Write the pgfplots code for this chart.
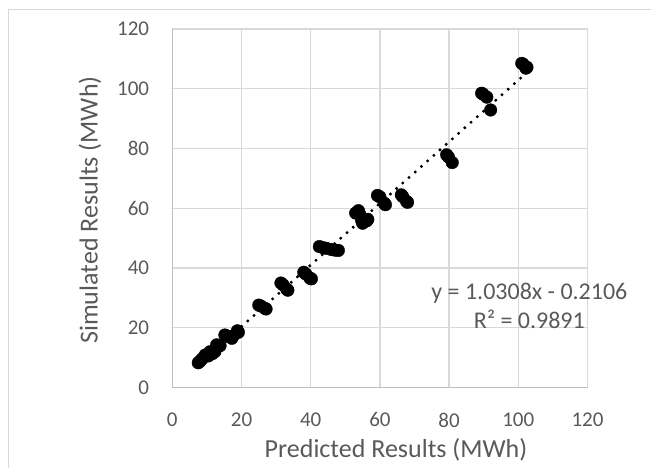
\documentclass[border=0pt]{standalone}
\usepackage{fontspec}
\setmainfont{Carlito}
\usepackage{pgfplots}
\pgfplotsset{compat=1.18}
\definecolor{txtgray}{HTML}{595959}
\definecolor{gridgray}{HTML}{D9D9D9}
\definecolor{axisgray}{HTML}{BFBFBF}

\begin{document}
\begin{tikzpicture}[x=1pt,y=1pt]
\path[use as bounding box] (0,0) rectangle (651,468);
% chart area border (cut off at right and bottom in the reference)
\draw[gridgray, line width=1.3pt] (8.3,-5) -- (8.3,458.3) -- (660,458.3);
\begin{axis}[
    at={(172.3pt,80.4pt)}, anchor=south west,
    scale only axis, width=415.2pt, height=358.6pt,
    xmin=0, xmax=120, ymin=0, ymax=120,
    xtick={0,20,...,120}, ytick={0,20,...,120},
    axis x line=bottom, axis y line=left,
    axis line style={axisgray, line width=1.3pt, -},
    grid=major, grid style={gridgray, line width=1.3pt},
    major tick length=0pt, tick style={draw=none},
    /pgf/number format/assume math mode=true,
    tick label style={font=\fontsize{21}{25}\selectfont, text=txtgray, inner sep=0pt},
    xticklabel style={font=\fontsize{21}{25}\selectfont, anchor=north, yshift=-25pt},
    yticklabel style={font=\fontsize{21}{25}\selectfont, anchor=east, xshift=-23pt},
    xlabel={Predicted Results (MWh)},
    ylabel={Simulated Results (MWh)},
    every axis x label/.style={at={(axis description cs:0.5388,-0.1944)}, anchor=base,
        font=\fontsize{26}{31}\selectfont, text=txtgray, inner sep=0pt},
    every axis y label/.style={at={(axis description cs:-0.1797,0.4953)}, rotate=90, anchor=base,
        font=\fontsize{26}{31}\selectfont, text=txtgray, inner sep=0pt},
    clip=false,
]
\addplot[only marks, mark=*, mark size=6.3pt, mark options={fill=black, draw=black}] coordinates {
    (7.5,8.3) (8.0,8.8) (8.6,9.6) (9.5,10.9) (10.4,10.6) (10.9,12.0) (11.5,11.3)
    (12.3,12.0) (12.8,14.3) (13.8,14.0) (15.2,17.6) (15.7,17.3) (16.5,17.0)
    (17.2,16.5) (17.6,17.3) (18.8,19.0) (19.1,18.5)
    (25.0,27.6) (25.6,27.3) (26.8,26.5) (27.1,26.3)
    (31.4,35.0) (32.0,34.4) (33.1,32.9) (33.4,32.6)
    (38.0,38.6) (38.6,38.0) (39.8,36.6) (40.2,36.4)
    (42.5,47.2) (43.6,46.8) (44.5,46.6) (46.0,46.2) (47.0,46.0) (48.0,45.9)
    (53.0,58.4) (53.8,59.2) (54.2,58.0) (54.7,56.0) (55.0,55.0) (56.2,55.8) (56.5,56.3)
    (59.3,64.3) (60.0,63.8) (61.3,61.7) (61.6,61.2)
    (66.2,64.5) (66.6,63.9) (67.7,62.3) (68.0,62.0)
    (79.3,77.9) (79.8,77.2) (80.9,75.3)
    (89.4,98.5) (89.8,98.2) (90.9,97.2) (92.0,92.9)
    (101.0,108.5) (101.4,108.2) (102.2,106.9) (102.5,107.2)
};
% linear trendline y = 1.0308x - 0.2106 over the data range
\addplot[black, line width=3.3pt, line cap=round, dash pattern=on 0pt off 8.3pt] coordinates {
    (7.5,7.52) (102.5,105.45)
};
\node[anchor=base, font=\fontsize{24}{29}\selectfont, text=txtgray, inner sep=0pt]
    at (axis cs:103.2,29.55) {y = 1.0308x - 0.2106};
\node[anchor=base, font=\fontsize{24}{29}\selectfont, text=txtgray, inner sep=0pt]
    at (axis cs:103.2,19.84) {R² = 0.9891};
\end{axis}
\end{tikzpicture}
\end{document}
